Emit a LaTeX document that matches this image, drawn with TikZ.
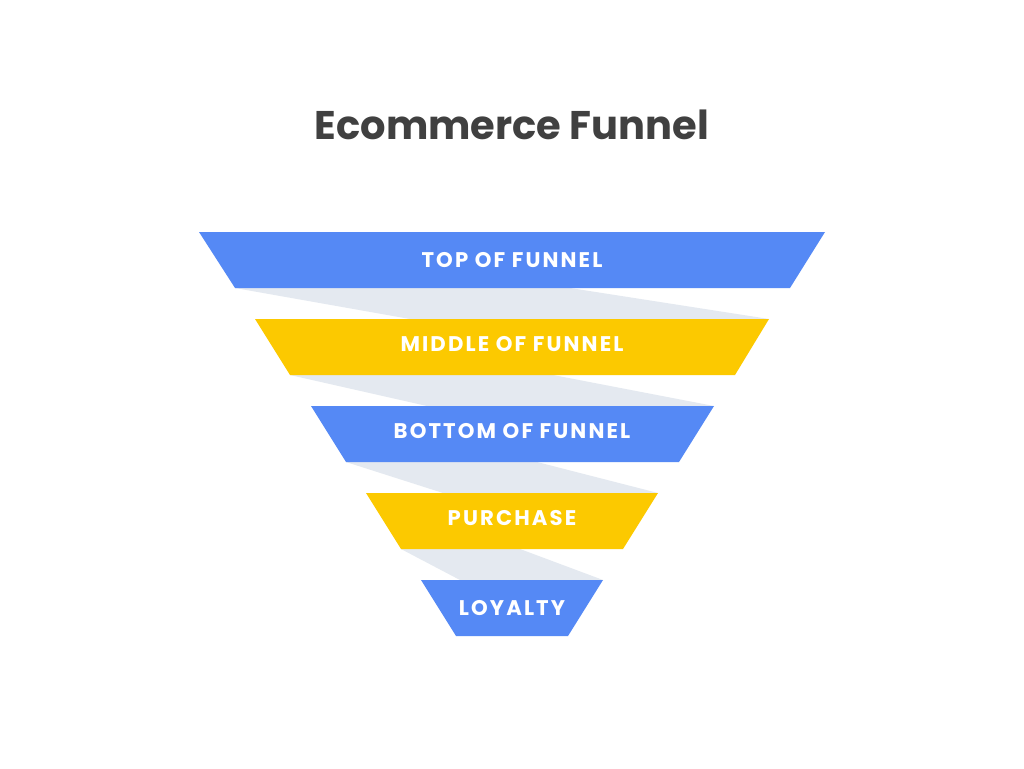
\documentclass[tikz,border=0pt]{standalone}
\usepackage{fontspec}
\setmainfont{Poppins}
\newfontfamily\bandfont[LetterSpace=10]{Poppins}
\usetikzlibrary{positioning}
\definecolor{funnelblue}{HTML}{5589F5}
\definecolor{funnelyellow}{HTML}{FCC900}
\definecolor{backside}{HTML}{E4E9F0}
\definecolor{titlegray}{HTML}{404040}

\begin{document}
\begin{tikzpicture}[x=1pt, y=-1pt,
    bandlabel/.style={text=white, font=\bandfont\fontsize{21.2}{23}\selectfont\bfseries, inner sep=0pt}]
  \useasboundingbox[fill=white] (0,0) rectangle (1024,768);
  % title
  \node[text=titlegray, font=\fontsize{40}{44}\selectfont\bfseries] (title) at (512,125) {Ecommerce Funnel};
  % back sides between the bands
  \fill[backside] (235,288) -- (570,288) -- (769,319) -- (410,319) -- cycle;
  \fill[backside] (290,375) -- (553,375) -- (714,406) -- (427,406) -- cycle;
  \fill[backside] (346,462) -- (537,462) -- (658,493) -- (443,493) -- cycle;
  \fill[backside] (401,549) -- (520,549) -- (603,580) -- (460,580) -- cycle;
  % bands
  \fill[funnelblue]   (199,232) -- (825,232) -- (790,288) -- (235,288) -- cycle;
  \fill[funnelyellow] (255,319) -- (769,319) -- (735,375) -- (290,375) -- cycle;
  \fill[funnelblue]   (311,406) -- (714,406) -- (679,462) -- (346,462) -- cycle;
  \fill[funnelyellow] (366,493) -- (658,493) -- (623,549) -- (401,549) -- cycle;
  \fill[funnelblue]   (421,580) -- (603,580) -- (568,636) -- (456,636) -- cycle;
  % labels
  \node[bandlabel] (tof) at (512,260) {TOP OF FUNNEL};
  \node[bandlabel] (mof) at (512,344) {MIDDLE OF FUNNEL};
  \node[bandlabel] (bof) at (512,431) {BOTTOM OF FUNNEL};
  \node[bandlabel] (purchase) at (512,518) {PURCHASE};
  \node[bandlabel] (loyalty) at (512,608) {LOYALTY};
\end{tikzpicture}
\end{document}
